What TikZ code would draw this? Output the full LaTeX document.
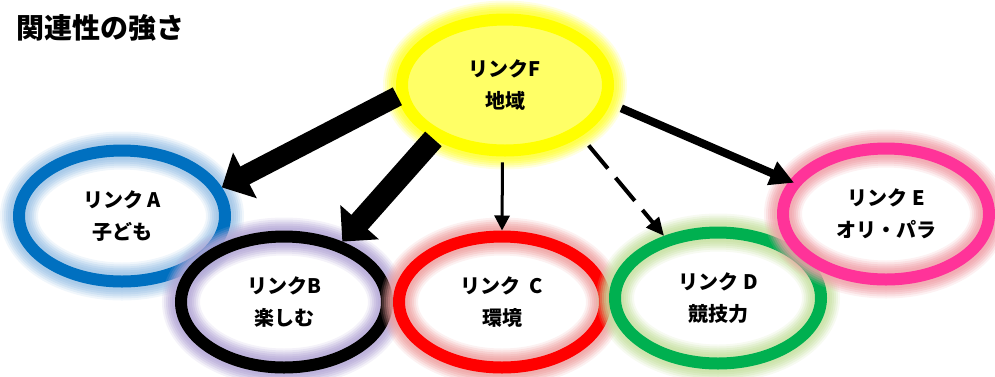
\documentclass[tikz,border=0pt]{standalone}
\usepackage{fontspec}
\setmainfont{Noto Sans CJK JP}
\usetikzlibrary{arrows.meta, shapes.geometric}
\definecolor{ringA}{HTML}{0070C0}
\definecolor{glowA}{HTML}{9DC3E6}
\definecolor{glowB}{HTML}{B4A7D6}
\definecolor{ringC}{HTML}{FF0000}
\definecolor{glowC}{HTML}{EEA0A0}
\definecolor{ringD}{HTML}{00B050}
\definecolor{glowD}{HTML}{C6E0A0}
\definecolor{ringE}{HTML}{FF3399}
\definecolor{glowE}{HTML}{F0A0A8}
\definecolor{ringF}{HTML}{FFFF00}
\definecolor{glowF}{HTML}{FFFF33}
\definecolor{fillF}{HTML}{FFFF66}

\begin{document}
\begin{tikzpicture}[x=1pt, y=-1pt,
  glow/.style={preaction={draw=#1, line width=38pt, opacity=.15}, preaction={draw=#1, line width=34pt, opacity=.2},
    preaction={draw=#1, line width=30pt, opacity=.25}, preaction={draw=#1, line width=26pt, opacity=.3},
    preaction={draw=#1, line width=22pt, opacity=.35}, preaction={draw=#1, line width=18pt, opacity=.4}},
  linknode/.style={ellipse, draw=#1, line width=12pt, minimum width=206pt, minimum height=131pt, inner sep=0pt,
    outer sep=6pt, align=center, font=\bfseries\fontsize{20}{32}\selectfont},
  bigarrow/.style={-{Triangle[length=26pt, width=50pt]}, line width=20pt}]
\useasboundingbox (0,0) rectangle (995,376);
\node (title) [anchor=west, inner sep=0pt, font=\bfseries\fontsize{28}{28}\selectfont] at (16,28) {関連性の強さ};
\node (A) [linknode=ringA, glow=glowA] at (122,216) {リンク A\\子ども};
\node (B) [linknode=black, glow=glowB] at (284,302) {リンクB\\楽しむ};
\node (C) [linknode=ringC, glow=glowC] at (502,302) {リンク~~C\\環境};
\node (D) [linknode=ringD, glow=glowD] at (718,298) {リンク D\\競技力};
\node (E) [linknode=ringE, glow=glowE] at (886,214) {リンク E\\オリ・パラ};
\node (F) [linknode=ringF, glow=glowF, fill=fillF] at (505,85) {リンクF\\地域};
\draw [bigarrow] (F.186) -- (A.16);
\draw [bigarrow, line width=22pt] (F.217) -- (B.46);
\draw [-{Triangle[length=15pt, width=15pt]}, line width=3pt, shorten <=6pt] (F.268) -- (C.90);
\draw [-{Triangle[length=18pt, width=16pt]}, line width=4pt, dash pattern=on 30pt off 12pt, shorten <=12pt] (F.326) -- (D.131);
\draw [-{Triangle[length=24pt, width=24pt]}, line width=8pt, shorten <=12pt, shorten >=-5pt] (F.350) -- (E.161);
\end{tikzpicture}
\end{document}
